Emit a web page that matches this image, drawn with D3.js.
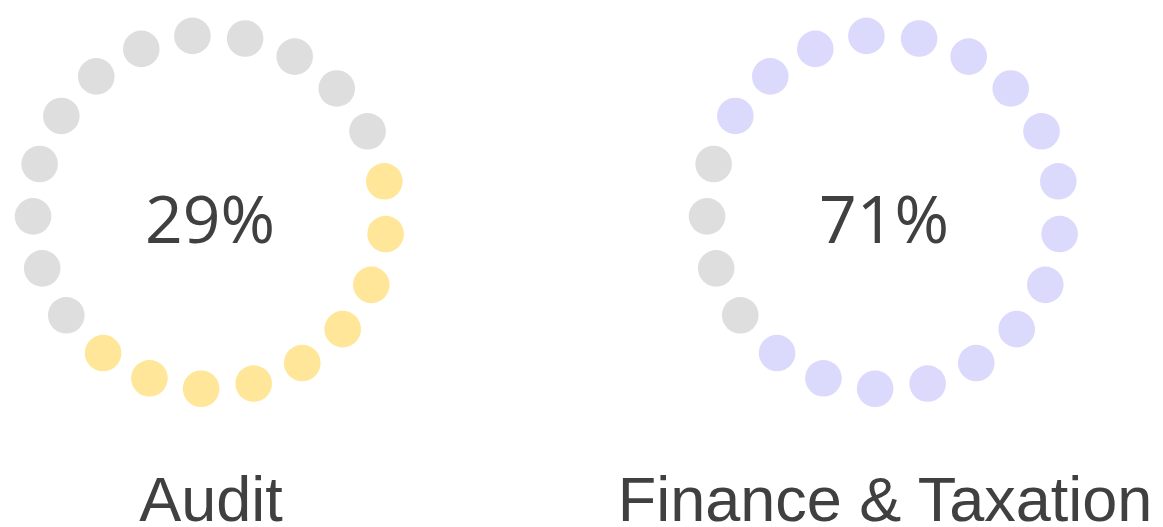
<!DOCTYPE html>
<html>
<head>
<meta charset="utf-8">
<title>Dot rings</title>
<script src="https://d3js.org/d3.v7.min.js"></script>
<style>
  html, body { margin: 0; padding: 0; background: #fff; }
  svg { display: block; }
</style>
</head>
<body>
<script>
// chart values
var categories = ["Audit", "Finance & Taxation"];
var percents = [29, 71];
var dotTotals = [21, 21];
var filledDots = [9, 17];
var fillColors = ["#ffe699", "#dbdafc"];

var width = 1163, height = 527;
var ringRadius = 177, dotRadius = 18.3, lastFilled = 13;

var svg = d3.select("body")
    .append("svg")
    .attr("width", width)
    .attr("height", height);

// centre of each ring
var x = d3.scalePoint()
    .domain(categories)
    .range([210, 884]);

categories.forEach(function(cat, k) {
    var n = dotTotals[k];
    // dot index -> angle (degrees, clockwise from 12 o'clock)
    var angle = d3.scaleLinear()
        .domain([0, n])
        .range([-5.7, 354.3]);

    var first = lastFilled - filledDots[k] + 1;
    var dots = d3.range(n).map(function(i) {
        var rel = ((i - first) % n + n) % n;
        return { i: i, on: rel < filledDots[k] };
    });

    var g = svg.append("g")
        .attr("transform", "translate(" + x(cat) + ",212)");

    g.selectAll("circle")
        .data(dots)
        .enter()
        .append("circle")
        .attr("cx", function(d) {
            return ringRadius * Math.sin(angle(d.i) * Math.PI / 180);
        })
        .attr("cy", function(d) {
            return -ringRadius * Math.cos(angle(d.i) * Math.PI / 180);
        })
        .attr("r", dotRadius)
        .attr("fill", function(d) { return d.on ? fillColors[k] : "#dedede"; });

    g.append("text")
        .attr("x", 0)
        .attr("y", 31)
        .attr("text-anchor", "middle")
        .style("font-family", "'Open Sans', sans-serif")
        .style("font-size", "66px")
        .style("fill", "#404040")
        .text(percents[k] + "%");

    svg.append("text")
        .attr("x", x(cat) + 1)
        .attr("y", 521)
        .attr("text-anchor", "middle")
        .style("font-family", "'Liberation Sans', Arial, sans-serif")
        .style("font-size", "63px")
        .style("fill", "#404040")
        .text(cat);
});
</script>
</body>
</html>
